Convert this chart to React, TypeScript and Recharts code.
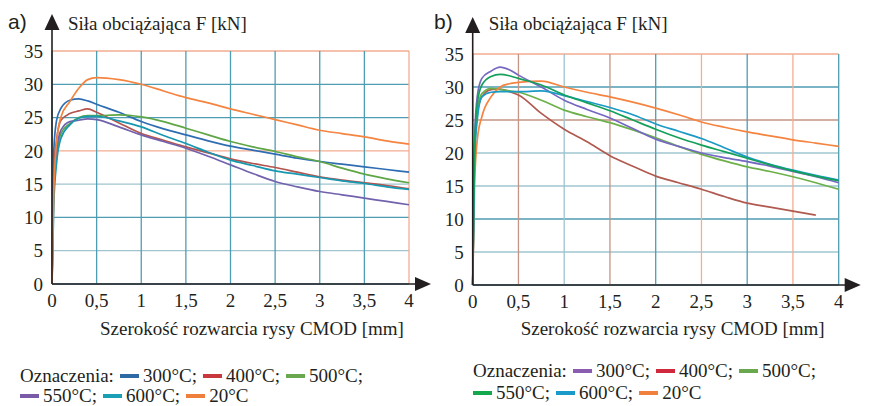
import { LineChart, Line, XAxis, YAxis, CartesianGrid } from 'recharts';

// CMOD [mm] sample points shared by both panels
const cmod = [0, 0.02, 0.05, 0.1, 0.2, 0.3, 0.4, 0.5, 0.75, 1, 1.25, 1.5, 1.75, 2, 2.25, 2.5, 2.75, 3, 3.25, 3.5, 3.75, 4];

const xTicks = [0, 0.5, 1, 1.5, 2, 2.5, 3, 3.5, 4];
const xTickLabels = ['0', '0,5', '1', '1,5', '2', '2,5', '3', '3,5', '4'];
const yTicks = [0, 5, 10, 15, 20, 25, 30, 35];

const legendLabels = ['300°C', '400°C', '500°C', '550°C', '600°C', '20°C'];

// panel a) – force F [kN]
const a300 = [0, 20, 24.5, 26.4, 27.6, 27.8, 27.5, 27.0, 25.8, 24.4, 23.3, 22.4, 21.5, 20.7, 20.1, 19.5, 18.9, 18.4, 18.0, 17.6, 17.2, 16.8];
const a400 = [0, 17, 21.5, 24.6, 25.6, 26.0, 26.3, 25.8, 24.2, 22.6, 21.6, 20.6, 19.7, 18.8, 18.1, 17.5, 16.8, 16.1, 15.6, 15.2, 14.8, 14.3];
const a500 = [0, 14, 19, 22.6, 24.1, 25.0, 25.3, 25.3, 25.4, 25.1, 24.4, 23.4, 22.4, 21.4, 20.6, 19.9, 19.1, 18.4, 17.4, 16.5, 15.8, 15.2];
const a550 = [0, 16, 20, 23.1, 24.4, 24.6, 24.8, 24.7, 23.6, 22.4, 21.4, 20.4, 19.2, 17.9, 16.6, 15.4, 14.6, 13.9, 13.4, 12.9, 12.4, 11.9];
const a600 = [0, 12, 18, 21.9, 23.9, 24.9, 25.2, 25.2, 24.5, 23.6, 22.3, 21.1, 19.8, 18.6, 17.8, 17.0, 16.5, 16.0, 15.5, 15.1, 14.6, 14.2];
const a20 = [0, 14, 21, 25.1, 27.4, 29.4, 30.7, 31.0, 30.7, 30.0, 29.0, 28.0, 27.2, 26.3, 25.5, 24.7, 23.9, 23.1, 22.6, 22.1, 21.5, 21.0];

// panel b)
const b300 = [0, 22, 28.6, 31.3, 32.4, 33.0, 32.6, 31.8, 30.0, 28.0, 26.6, 25.3, 23.7, 22.1, 21.0, 20.0, 19.3, 18.7, 18.0, 17.2, 16.4, 15.5];
const b400 = [0, 20, 26, 28.5, 29.6, 29.7, 29.3, 28.8, 26.0, 23.6, 21.7, 19.6, 18.0, 16.5, 15.5, 14.5, 13.4, 12.4, 11.8, 11.2, 10.6, null];
const b500 = [0, 20, 26.5, 29.0, 29.8, 29.6, 29.4, 29.2, 28.0, 26.5, 25.5, 24.6, 23.5, 22.3, 21.0, 19.8, 18.8, 17.9, 17.2, 16.4, 15.5, 14.5];
const b550 = [0, 21, 27.5, 30.3, 31.6, 31.9, 31.7, 31.3, 30.3, 28.8, 27.6, 26.4, 25.0, 23.6, 22.3, 21.2, 20.2, 19.2, 18.2, 17.3, 16.5, 15.8];
const b600 = [0, 19, 25, 28.5, 29.2, 29.3, 29.3, 29.3, 29.4, 28.7, 27.8, 26.9, 25.8, 24.4, 23.3, 22.2, 20.8, 19.4, 18.3, 17.4, 16.6, 15.9];
const b20 = [0, 15, 22, 25.5, 28.5, 30.0, 30.5, 30.7, 30.9, 30.0, 29.2, 28.5, 27.7, 26.8, 25.8, 24.7, 23.9, 23.2, 22.6, 22.0, 21.5, 21.0];

const SERIF = "Liberation Serif, DejaVu Serif, Times New Roman, serif";
const INK = '#231f20';
const CHART_H = 320;
const X_AXIS_H = 30;
const Y_AXIS_W = 40;

const TEAL = '#4f9db2';
const ORANGE = '#f3ad90';
const BROWN = '#c49585';
const PALE = '#9fc4cf';

const panelA = {
  left: 0,
  width: 440,
  plot: { left: 52, right: 409, top: 51, bottom: 284 },
  series: [
    { key: 's300', values: a300, color: '#2f6db3' },
    { key: 's400', values: a400, color: '#b4544e' },
    { key: 's500', values: a500, color: '#5ea646' },
    { key: 's550', values: a550, color: '#7262ad' },
    { key: 's600', values: a600, color: '#1797b0' },
    { key: 's20', values: a20, color: '#f4843f' },
  ],
  legend: ['#2d6aa3', '#c8383c', '#6aa84f', '#7a5ba7', '#1aa0b5', '#f07f3c'],
  // colours for y = 0..35 and x = 0..4
  hGrid: [TEAL, PALE, TEAL, PALE, ORANGE, TEAL, TEAL, ORANGE],
  vGrid: [TEAL, TEAL, TEAL, TEAL, TEAL, TEAL, TEAL, TEAL, ORANGE],
};

const panelB = {
  left: 430,
  width: 439,
  plot: { left: 42.7, right: 408.7, top: 54, bottom: 285 },
  series: [
    { key: 's400', values: b400, color: '#b05a50' },
    { key: 's500', values: b500, color: '#6cb04a' },
    { key: 's20', values: b20, color: '#f4843f' },
    { key: 's300', values: b300, color: '#7468c2' },
    { key: 's600', values: b600, color: '#1b9ac6' },
    { key: 's550', values: b550, color: '#14a05a' },
  ],
  legend: ['#8a5db0', '#d0283c', '#6aa84f', '#12a84b', '#1a9ac8', '#f0803c'],
  hGrid: [TEAL, PALE, TEAL, PALE, PALE, BROWN, TEAL, ORANGE],
  vGrid: [TEAL, BROWN, PALE, BROWN, TEAL, ORANGE, TEAL, ORANGE, TEAL],
};

type PanelCfg = typeof panelA;

function Panel({ cfg }: { cfg: PanelCfg }) {
  const { plot } = cfg;
  const data = cmod.map((x, i) => {
    const row: any = { x };
    cfg.series.forEach((s) => { row[s.key] = s.values[i]; });
    return row;
  });
  const tickStyle = { fontFamily: SERIF, fontSize: 19, fill: INK };

  const hLine = (p: any) => {
    const v = Math.round(((plot.bottom - p.y1) / (plot.bottom - plot.top)) * 7);
    return <line key={'h' + p.index} x1={p.x1} x2={p.x2} y1={p.y1} y2={p.y2} stroke={cfg.hGrid[v] || TEAL} strokeWidth={1.3} />;
  };
  const vLine = (p: any) => {
    const v = Math.round(((p.x1 - plot.left) / (plot.right - plot.left)) * 8);
    return <line key={'v' + p.index} x1={p.x1} x2={p.x2} y1={p.y1} y2={p.y2} stroke={cfg.vGrid[v] || TEAL} strokeWidth={1.3} />;
  };

  return (
    <div style={{ position: 'absolute', left: cfg.left, top: 0 }}>
      <LineChart
        width={cfg.width}
        height={CHART_H}
        data={data}
        margin={{
          top: plot.top,
          right: cfg.width - plot.right,
          bottom: CHART_H - plot.bottom - X_AXIS_H,
          left: plot.left - Y_AXIS_W,
        }}
      >
        <CartesianGrid horizontal={hLine} vertical={vLine} />
        <XAxis
          type="number"
          dataKey="x"
          domain={[0, 4]}
          ticks={xTicks}
          interval={0}
          tickFormatter={(v: number) => xTickLabels[xTicks.indexOf(v)]}
          axisLine={false}
          tickLine={false}
          tickSize={0}
          tickMargin={10}
          height={X_AXIS_H}
          tick={tickStyle}
        />
        <YAxis
          type="number"
          domain={[0, 35]}
          ticks={yTicks}
          interval={0}
          axisLine={false}
          tickLine={false}
          tickSize={0}
          tickMargin={9}
          width={Y_AXIS_W}
          tick={tickStyle}
        />
        {cfg.series.map((s) => (
          <Line
            key={s.key}
            dataKey={s.key}
            type="monotone"
            stroke={s.color}
            strokeWidth={1.7}
            dot={false}
            isAnimationActive={false}
          />
        ))}
      </LineChart>
    </div>
  );
}

function Axes({ cfg, letter }: { cfg: PanelCfg; letter: string }) {
  const x0 = cfg.left + cfg.plot.left;
  const y0 = cfg.plot.bottom;
  const xEnd = cfg.left + cfg.plot.right + 22;
  const yEnd = cfg.plot.top - 37;
  return (
    <g>
      <line x1={x0} y1={y0} x2={x0} y2={yEnd + 12} stroke={INK} strokeWidth={1.6} />
      <polygon points={`${x0},${yEnd} ${x0 - 7.5},${yEnd + 16} ${x0 + 7.5},${yEnd + 16}`} fill={INK} />
      <line x1={x0} y1={y0} x2={xEnd - 12} y2={y0} stroke={INK} strokeWidth={1.6} />
      <polygon points={`${xEnd},${y0} ${xEnd - 16},${y0 - 7} ${xEnd - 16},${y0 + 7}`} fill={INK} />
      <text x={cfg.left + (letter === 'a)' ? 8 : 4)} y={29} fontFamily="Liberation Sans, Arial, sans-serif" fontSize={21} fill={INK}>{letter}</text>
      <text x={x0 + 16} y={30} fontFamily={SERIF} fontSize={19} fill={INK}>Siła obciążająca F [kN]</text>
      <text x={cfg.left + cfg.plot.left + 48} y={335} fontFamily={SERIF} fontSize={19} fill={INK}>Szerokość rozwarcia rysy CMOD [mm]</text>
    </g>
  );
}

function Legend({ cfg, left, top, gap }: { cfg: PanelCfg; left: number; top: number; gap: number }) {
  const item = (i: number) => (
    <span key={i} style={{ display: 'inline-flex', alignItems: 'center' }}>
      <span style={{ display: 'inline-block', width: 19, height: 4, background: cfg.legend[i], margin: '0 4px 0 6px' }} />
      {legendLabels[i] + (i === 5 ? '' : ';')}
    </span>
  );
  const row = { display: 'flex', alignItems: 'center', height: gap, whiteSpace: 'nowrap' as const };
  return (
    <div style={{ position: 'absolute', left, top, fontFamily: SERIF, fontSize: 19, color: INK, lineHeight: gap + 'px' }}>
      <div style={row}>
        <span>Oznaczenia:</span>
        {[0, 1, 2].map(item)}
      </div>
      <div style={{ ...row, marginLeft: -6 }}>{[3, 4, 5].map(item)}</div>
    </div>
  );
}

export default function App() {
  return (
    <div style={{ position: 'absolute', left: 0, top: 0, width: 869, height: 406, background: '#fff', overflow: 'hidden' }}>
      <Panel cfg={panelA} />
      <Panel cfg={panelB} />
      <svg width={869} height={406} style={{ position: 'absolute', left: 0, top: 0, pointerEvents: 'none' }}>
        <Axes cfg={panelA} letter="a)" />
        <Axes cfg={panelB} letter="b)" />
      </svg>
      <Legend cfg={panelA} left={20} top={366} gap={20} />
      <Legend cfg={panelB} left={473} top={360} gap={22} />
    </div>
  );
}
